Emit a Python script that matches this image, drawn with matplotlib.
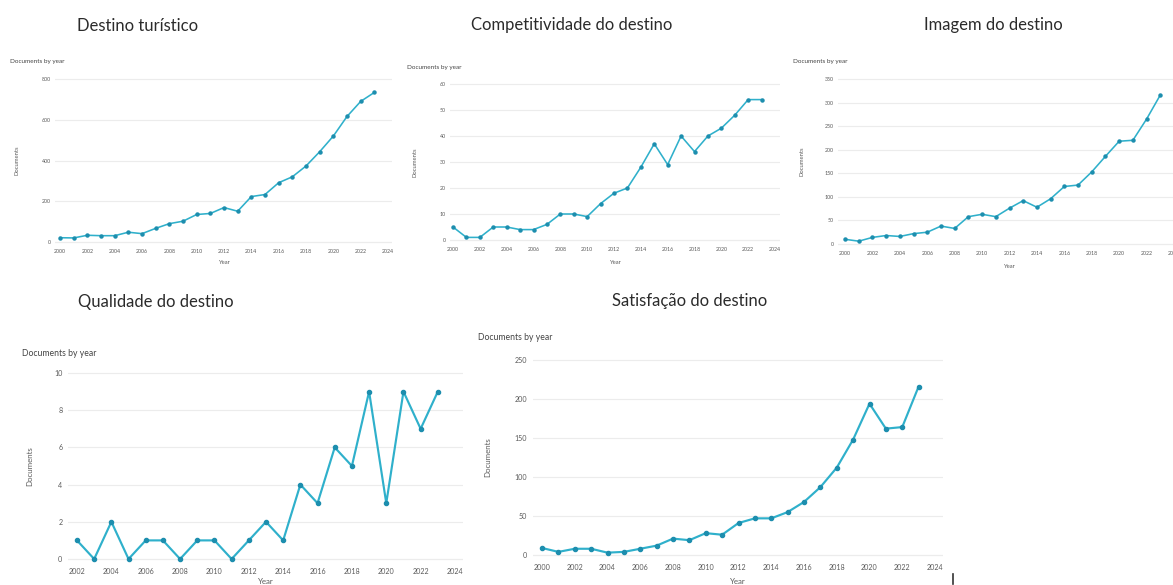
import matplotlib
matplotlib.use('Agg')
from matplotlib import pyplot as plt
from matplotlib.lines import Line2D

plt.rcParams['font.family'] = ['Lato', 'DejaVu Sans']

# documentos por ano em cada tema
anos_2000 = list(range(2000, 2024))
anos_2002 = list(range(2002, 2024))

destino_turistico = [21, 20, 33, 31, 31, 48, 41, 67, 90, 102, 135, 140,
                     169, 151, 223, 233, 291, 320, 373, 443, 520, 616, 690, 734]
competitividade = [5, 1, 1, 5, 5, 4, 4, 6, 10, 10, 9, 14,
                   18, 20, 28, 37, 29, 40, 34, 40, 43, 48, 54, 54]
imagem = [10, 6, 14, 18, 16, 22, 25, 38, 33, 58, 63, 58,
          76, 92, 78, 96, 122, 125, 153, 186, 218, 220, 265, 316]
qualidade = [1, 0, 2, 0, 1, 1, 0, 1, 1, 0, 1, 2, 1, 4, 3, 6, 5, 9, 3, 9, 7, 9]
satisfacao = [9, 4, 8, 8, 3, 4, 8, 12, 21, 19, 28, 26,
              41, 47, 47, 55, 68, 87, 112, 148, 194, 162, 164, 216]

W, H = 1173, 585
COR = '#2fb0cb'
COR_PONTO = '#1d8eae'
CINZA = '#5a5a5a'

fig = plt.figure(figsize=(W / 100, H / 100), dpi=100)


def painel(titulo, tit_xy, sub_xy, anos, valores, caixa, ancora_x, ancora_y,
           yticks, escala, ylab_x, year_y):
    esq, dir_, topo, base = caixa
    ax = fig.add_axes([esq / W, 1 - base / H, (dir_ - esq) / W, (base - topo) / H])
    # limites a partir de dois pontos de referencia em pixels
    (px0, v0), (px1, v1) = ancora_x
    k = (v1 - v0) / (px1 - px0)
    ax.set_xlim(v0 + (esq - px0) * k, v0 + (dir_ - px0) * k)
    (py0, w0), (py1, w1) = ancora_y
    k = (w1 - w0) / (py1 - py0)
    ax.set_ylim(w0 + (base - py0) * k, w0 + (topo - py0) * k)

    ax.plot(anos, valores, color=COR, lw=1.15 * escala, marker='o',
            ms=2.2 * escala, mfc=COR_PONTO, mec=COR_PONTO, zorder=3)
    ax.set_yticks(yticks)
    ax.set_xticks(range(anos[0], 2025, 2))
    ax.tick_params(length=0, labelsize=3.8 * escala, labelcolor=CINZA, pad=3 * escala)
    ax.grid(axis='y', color='#ececec', lw=0.8)
    for s in ax.spines.values():
        s.set_visible(False)
    ax.axhline(0, color='#dcdcdc', lw=0.8, zorder=1)

    fig.text(tit_xy[0] / W, 1 - tit_xy[1] / H, titulo, fontsize=12,
             color='#2b2b2b', ha='center', va='center')
    fig.text(sub_xy[0] / W, 1 - sub_xy[1] / H, 'Documents by year',
             fontsize=4.6 * escala, color='#444444', ha='left', va='center')
    cy = (topo + base) / 2
    fig.text(ylab_x / W, 1 - cy / H, 'Documents', rotation=90,
             fontsize=4.2 * escala, color=CINZA, ha='center', va='center')
    cx = (esq + dir_) / 2
    fig.text(cx / W, 1 - year_y / H, 'Year', fontsize=4.2 * escala,
             color=CINZA, ha='center', va='center')
    return ax


painel('Destino turístico', (138, 26), (10, 61), anos_2000, destino_turistico,
       (55, 392, 76, 245), ((60, 2000), (388, 2024)), ((242, 0), (79, 800)),
       [0, 200, 400, 600, 800], 1.0, 17, 263)

painel('Competitividade do destino', (572, 25), (407, 68), anos_2000, competitividade,
       (450, 780, 81, 243), ((453, 2000), (775, 2024)), ((240, 0), (84, 60)),
       [0, 10, 20, 30, 40, 50, 60], 1.0, 415, 262)

painel('Imagem do destino', (993, 25), (793, 61), anos_2000, imagem,
       (838, 1180, 76, 247), ((845, 2000), (1174, 2024)), ((244, 0), (79, 350)),
       [0, 50, 100, 150, 200, 250, 300, 350], 1.0, 802, 267)

painel('Qualidade do destino', (156, 302), (22, 353), anos_2002, qualidade,
       (68, 463, 370, 562), ((77, 2002), (455, 2024)), ((559, 0), (373, 10)),
       [0, 2, 4, 6, 8, 10], 1.35, 30, 582)

painel('Satisfação do destino', (690, 301), (478, 338), anos_2000, satisfacao,
       (533, 943, 357, 558), ((542, 2000), (935, 2024)), ((555, 0), (360, 250)),
       [0, 50, 100, 150, 200, 250], 1.35, 488, 581)

# pequeno traço no canto inferior
fig.add_artist(Line2D([953 / W, 953 / W], [1 - 574 / H, 1 - 584 / H],
                      color='#333333', lw=1.2))

fig.savefig('out.png', dpi=100, facecolor='white')
